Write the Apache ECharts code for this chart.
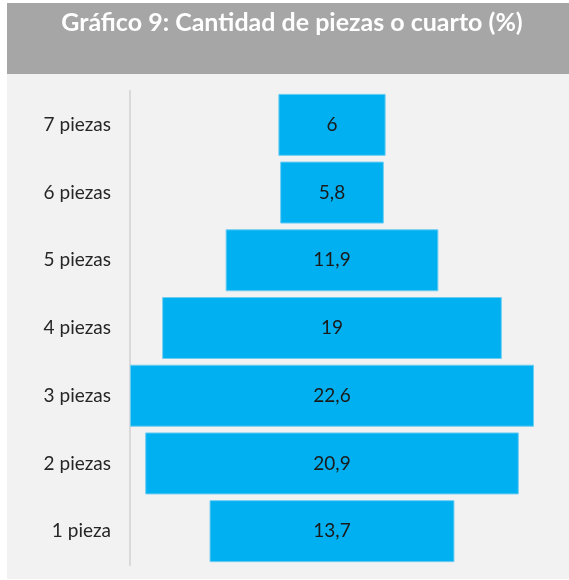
<!DOCTYPE html>
<html>
<head>
<meta charset="utf-8">
<script src="https://cdn.jsdelivr.net/npm/echarts@6/dist/echarts.min.js"></script>
<style>
  html, body { margin: 0; padding: 0; background: #ffffff; }
  #main { width: 569px; height: 580px; }
</style>
</head>
<body>
<div id="main"></div>
<script>
var categories = ['1 pieza', '2 piezas', '3 piezas', '4 piezas', '5 piezas', '6 piezas', '7 piezas'];
var values = [13.7, 20.9, 22.6, 19, 11.9, 5.8, 6];

var maxVal = Math.max.apply(null, values);
// invisible spacer so each bar sits centred
var offsets = values.map(function (v) { return (maxVal - v) / 2; });

var chartDom = document.getElementById('main');
var myChart = echarts.init(chartDom);
var option;

option = {
    animation: false,
    graphic: [
        { type: 'rect', z: -10, shape: { x: 7, y: 74, width: 562, height: 505 }, style: { fill: '#f2f2f2' } },
        { type: 'rect', z: -10, shape: { x: 7, y: 3, width: 562, height: 71 }, style: { fill: '#a6a6a6' } }
    ],
    title: {
        text: 'Gráfico 9: Cantidad de piezas o cuarto (%)',
        left: 287,
        textAlign: 'center',
        top: 5,
        textStyle: {
            color: '#ffffff',
            fontFamily: 'Lato',
            fontWeight: 'bold',
            fontSize: 25
        }
    },
    grid: {
        left: 130,
        right: 35,
        top: 91,
        bottom: 15
    },
    xAxis: {
        type: 'value',
        min: 0,
        max: maxVal,
        show: false
    },
    yAxis: {
        type: 'category',
        data: categories,
        axisLine: { show: true, lineStyle: { color: '#d9d9d9', width: 2 } },
        axisTick: { show: false },
        axisLabel: {
            margin: 19,
            color: '#262626',
            fontFamily: 'Lato',
            fontSize: 19,
            padding: [4, 0, 0, 0]
        }
    },
    series: [
        {
            type: 'bar',
            stack: 'total',
            data: offsets,
            itemStyle: { color: 'transparent' },
            silent: true,
            barWidth: 62
        },
        {
            name: 'Piezas',
            type: 'bar',
            stack: 'total',
            data: values,
            barWidth: 62,
            itemStyle: { color: '#00b0f0', borderColor: '#6fcdf2', borderWidth: 1 },
            label: {
                show: true,
                position: 'inside',
                color: '#1a1a1a',
                fontFamily: 'Lato',
                fontSize: 19,
                padding: [4, 0, 0, 0],
                formatter: function (p) { return String(p.value).replace('.', ','); }
            }
        }
    ]
};

option && myChart.setOption(option);
</script>
</body>
</html>
